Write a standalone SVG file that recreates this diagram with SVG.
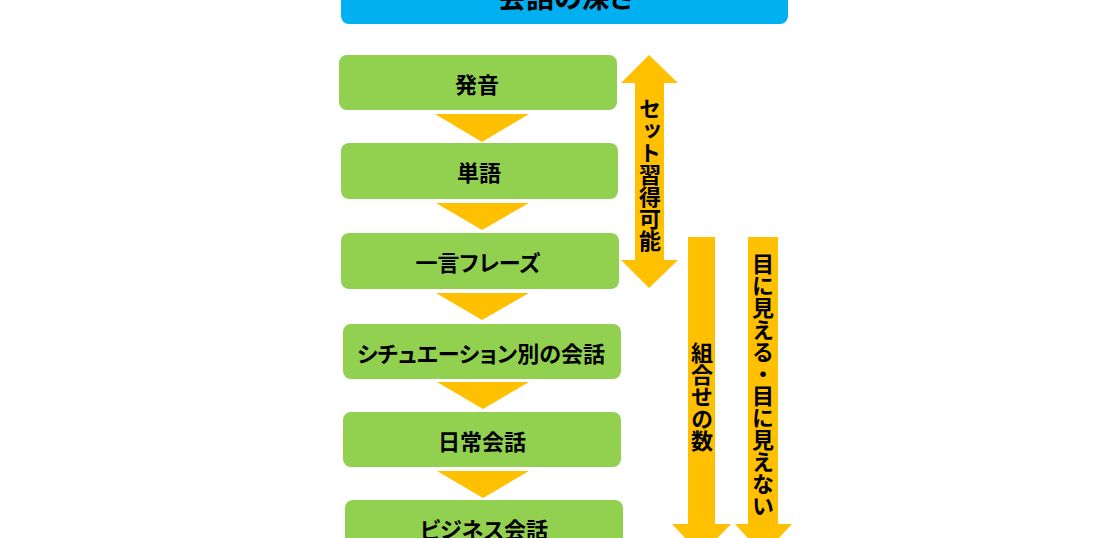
<svg xmlns="http://www.w3.org/2000/svg" width="1118" height="538" viewBox="0 0 1118 538">
  <style>
    .box { fill: #92D050; }
    .title { fill: #00B0F0; }
    .arr { fill: #FFC000; }
    .lbl { font-family: "Noto Sans CJK JP", "Noto Sans", sans-serif; font-weight: 700; fill: #000; }
    .h { font-size: 22px; text-anchor: middle; dominant-baseline: central; font-feature-settings: "palt"; }
    .v { font-size: 22px; writing-mode: vertical-rl; text-anchor: middle; }
  </style>
  <rect x="0" y="0" width="1118" height="538" fill="#ffffff"/>
  <g id="title">
    <rect class="title" x="341" y="-30" width="447" height="54" rx="8"/>
    <text class="lbl" x="566" y="8" font-size="28" text-anchor="middle" style="font-feature-settings: 'palt';">会話の深さ</text>
  </g>
  <g id="n1">
    <rect class="box" x="339" y="55" width="278" height="55" rx="8"/>
    <text class="lbl h" x="477" y="83">発音</text>
  </g>
  <g id="n2">
    <rect class="box" x="341" y="143" width="277" height="56" rx="8"/>
    <text class="lbl h" x="479" y="171">単語</text>
  </g>
  <g id="n3">
    <rect class="box" x="341" y="233" width="278" height="56" rx="8"/>
    <text class="lbl h" x="478" y="261">一言フレーズ</text>
  </g>
  <g id="n4">
    <rect class="box" x="343" y="324" width="278" height="55" rx="8"/>
    <text class="lbl h" x="481" y="351.5">シチュエーション別の会話</text>
  </g>
  <g id="n5">
    <rect class="box" x="343" y="412" width="278" height="55" rx="8"/>
    <text class="lbl h" x="482" y="439.5">日常会話</text>
  </g>
  <g id="n6">
    <rect class="box" x="345" y="500" width="278" height="55" rx="8"/>
    <text class="lbl h" x="484" y="528">ビジネス会話</text>
  </g>
  <g id="connectors">
    <polygon class="arr" points="435,114 529,114 482,142"/>
    <polygon class="arr" points="436,203 529,203 482,230"/>
    <polygon class="arr" points="436,293 529,293 482,320"/>
    <polygon class="arr" points="437,382 529,382 483,409"/>
    <polygon class="arr" points="437,471 529,471 483,498"/>
    <polygon class="arr" points="649,55 678,83 664,83 664,260 678,260 649,288 621,260 635,260 635,83 621,83"/>
    <polygon class="arr" points="688,237 715,237 715,524 731,524 701,555 672,524 688,524"/>
    <polygon class="arr" points="748,237 778,237 778,524 792,524 763,555 735,524 748,524"/>
  </g>
  <g id="labels">
    <text class="lbl v" x="650" y="175">セット習得可能</text>
    <text class="lbl v" x="702" y="397">組合せの数</text>
    <text class="lbl v" x="763" y="385">目に見える・目に見えない</text>
  </g>
</svg>
